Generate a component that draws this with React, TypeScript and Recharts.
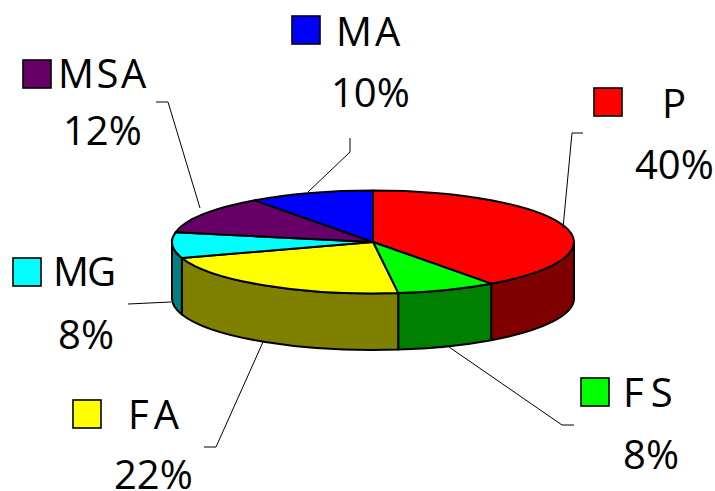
import { Pie, PieChart } from "recharts"

const categories = ["P", "FS", "FA", "MG", "MSA", "MA"]
const shares = [40, 8, 22, 8, 12, 10]
const topColors = ["#ff0000", "#00ff00", "#ffff00", "#00ffff", "#660066", "#0000ff"]
const wallColors = ["#800000", "#008000", "#808000", "#008080", "#330033", "#000080"]

// callout layout per slice: swatch corner, name start, name tracking, percent start, leader line
const swatchAt = [[594, 88], [581, 378], [73, 400], [13, 258], [23, 60], [292, 16]]
const nameAt = [[662, 118], [623, 407], [128, 429], [53, 286], [58, 88], [336, 46]]
const nameTracking = [3, 7, 5, -2, 2.5, 3]
const shareAt = [[635, 179], [623, 469], [114, 489], [58, 349], [63, 145], [331, 107]]
const leaders = [
  "563,228 572,133 583,133",
  "449,347 562,425 574,425",
  "263,342 216,447 204,447",
  "171,302 128,304",
  "200,208 168,102 156,102",
  "308,192 350,152 350,138",
]

const CX = 373
const CY = 242
const RX = 201
const RY = 51.5
const DEPTH = 56.5
const FONT = "'Open Sans', sans-serif"

const rim = (deg: number, dy = 0) => {
  const a = (deg * Math.PI) / 180
  return [CX + RX * Math.cos(a), CY - RY * Math.sin(a) + dy]
}

// slice drawn as a flattened ellipse sector, with its outer wall where it faces the viewer
function Slice3D(props: any) {
  const { startAngle, endAngle, index } = props
  const [x0, y0] = rim(startAngle)
  const [x1, y1] = rim(endAngle)
  const large = startAngle - endAngle > 180 ? 1 : 0
  const top = `M${CX},${CY} L${x0},${y0} A${RX},${RY} 0 ${large} 1 ${x1},${y1} Z`

  const wallStart = Math.min(startAngle, 0)
  const wallEnd = Math.max(endAngle, -180)
  let wall = null
  if (wallStart > wallEnd) {
    const [a0, b0] = rim(wallStart)
    const [a1, b1] = rim(wallEnd)
    const [c1, d1] = rim(wallEnd, DEPTH)
    const [c0, d0] = rim(wallStart, DEPTH)
    wall = (
      <path
        d={`M${a0},${b0} A${RX},${RY} 0 0 1 ${a1},${b1} L${c1},${d1} A${RX},${RY} 0 0 0 ${c0},${d0} Z`}
        fill={wallColors[index]}
        stroke="#000"
        strokeWidth={2}
        strokeLinejoin="round"
      />
    )
  }

  return (
    <g>
      {wall}
      <path d={top} fill={topColors[index]} stroke="#000" strokeWidth={2} strokeLinejoin="round" />
    </g>
  )
}

function Callout(props: any) {
  const { index } = props
  const [sx, sy] = swatchAt[index]
  return (
    <g>
      <polyline points={leaders[index]} fill="none" stroke="#000" strokeWidth={1} />
      <rect x={sx} y={sy} width={28} height={28} fill={topColors[index]} stroke="#000" strokeWidth={1.6} />
      <text
        x={nameAt[index][0]}
        y={nameAt[index][1]}
        fontFamily={FONT}
        fontSize={40}
        letterSpacing={nameTracking[index]}
        fill="#000"
      >
        {categories[index]}
      </text>
      <text x={shareAt[index][0]} y={shareAt[index][1]} fontFamily={FONT} fontSize={40} fill="#000">
        {shares[index]}%
      </text>
    </g>
  )
}

const rows = categories.map((name, i) => ({ name, value: shares[i] }))

export default function App() {
  return (
    <div style={{ position: "absolute", left: 0, top: 0, width: 715, height: 491, background: "#fff", overflow: "hidden" }}>
      <PieChart width={715} height={491} margin={{ top: 0, right: 0, bottom: 0, left: 0 }}>
        <Pie
          data={rows}
          dataKey="value"
          nameKey="name"
          cx={CX}
          cy={CY}
          outerRadius={RX}
          startAngle={90}
          endAngle={-270}
          paddingAngle={0}
          stroke="none"
          shape={Slice3D}
          label={Callout}
          labelLine={false}
          isAnimationActive={false}
        />
      </PieChart>
    </div>
  )
}
